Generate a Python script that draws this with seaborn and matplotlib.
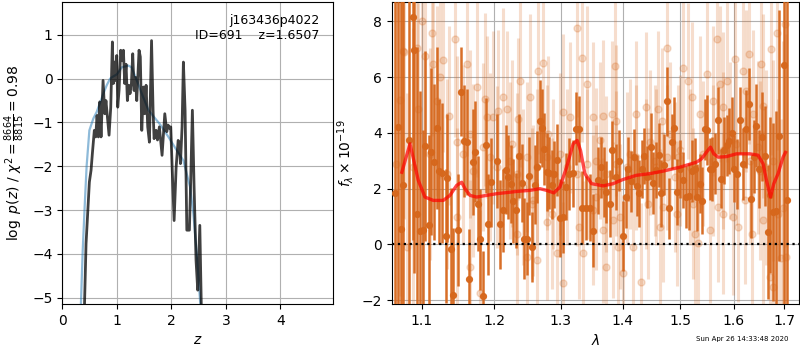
import matplotlib
matplotlib.use("Agg")
import matplotlib.pyplot as plt
import seaborn as sns
import numpy as np
from matplotlib.ticker import FixedLocator, FixedFormatter, NullLocator

# ---------------- left panel: log p(z) ----------------
pz_z = [0.404, 0.435, 0.496, 0.527, 0.551, 0.587, 0.612, 0.637, 0.661, 0.686,
        0.710, 0.747, 0.778, 0.800, 0.857, 0.888, 0.918, 0.936, 0.955, 0.973,
        0.998, 1.016, 1.040, 1.071, 1.096, 1.120, 1.144, 1.169, 1.193, 1.218,
        1.242, 1.267, 1.291, 1.316, 1.340, 1.365, 1.407, 1.430, 1.457, 1.487,
        1.511, 1.536, 1.566, 1.597, 1.636, 1.664, 1.683, 1.720, 1.745, 1.780,
        1.829, 1.879, 1.915, 1.940, 1.964, 1.988, 2.018, 2.050, 2.087, 2.124,
        2.148, 2.166, 2.196, 2.220, 2.251, 2.283, 2.330, 2.355, 2.385, 2.416,
        2.452, 2.483, 2.521, 2.550]
pz_logp = [-5.3, -3.77, -2.36, -2.09, -1.71, -1.18, -1.33, -0.84, -1.33, -0.53,
           -1.33, -0.04, -0.80, -0.50, -1.29, -0.65, 0.84, -0.11, 0.38, -0.04,
           0.53, -0.65, -0.27, 0.65, 0.41, 0.65, -0.11, 0.33, -0.50, -0.15,
           -0.34, -0.11, 0.57, -0.27, 0.03, -0.50, 0.65, 0.50, -1.18, -0.19,
           -0.80, -0.15, -1.10, -1.45, 0.87, -0.72, -1.37, -1.18, -1.40, -1.10,
           -1.75, -0.80, -1.21, -1.06, -1.13, -1.10, -2.17, -3.24, -2.02, -1.41,
           -1.48, -1.94, -1.10, 0.38, -0.72, -3.46, -3.46, -2.30, -0.72, -2.47,
           -4.15, -4.83, -3.35, -5.3]

prior_z = [0.337, 0.374, 0.415, 0.446, 0.496, 0.569, 0.630, 0.753, 0.814, 0.875,
           0.906, 1.000, 1.090, 1.210, 1.270, 1.365, 1.457, 1.580, 1.730, 1.790,
           1.946, 2.100, 2.220, 2.342, 2.403, 2.465, 2.526, 2.545]
prior_logp = [-5.3, -3.92, -2.78, -1.99, -1.18, -0.91, -0.76, -0.34, -0.15, 0.0,
              0.03, 0.10, 0.26, 0.30, 0.26, -0.04, -0.34, -0.72, -0.95, -1.04,
              -1.33, -1.64, -1.87, -2.47, -3.08, -4.00, -5.07, -5.3]

# ---------------- right panel: spectrum ----------------
dark_wave = [1.0652, 1.0695, 1.0729, 1.0759, 1.0837, 1.0882, 1.0902, 1.0941, 1.0977, 1.1020,
             1.1047, 1.1092, 1.1127, 1.1159, 1.1199, 1.1230, 1.1274, 1.1320, 1.1342, 1.1387,
             1.1423, 1.1487, 1.1529, 1.1570, 1.1608, 1.1644, 1.1692, 1.1728, 1.1762, 1.1794,
             1.1841, 1.1880, 1.1913, 1.1951,
             1.2043, 1.2082, 1.2121, 1.2165, 1.2203, 1.2238, 1.2276, 1.2316, 1.2365, 1.2405,
             1.2439, 1.2474, 1.2514, 1.2558, 1.2603, 1.2639, 1.2676, 1.2711, 1.2741, 1.2778,
             1.2817, 1.2859, 1.2895, 1.2932, 1.2983, 1.3025, 1.3077, 1.3119, 1.3192, 1.3235,
             1.3287, 1.3341, 1.3390, 1.3470, 1.3512,
             1.3594, 1.3649, 1.3692, 1.3731, 1.3786, 1.3830, 1.3886, 1.3941, 1.4008, 1.4054,
             1.4093, 1.4133, 1.4189, 1.4235, 1.4280, 1.4326, 1.4366, 1.4417, 1.4476, 1.4521,
             1.4568, 1.4616, 1.4668, 1.4709, 1.4757, 1.4803, 1.4851, 1.4899, 1.4946, 1.4995,
             1.5043, 1.5102, 1.5152, 1.5207,
             1.5267, 1.5309, 1.5359, 1.5408, 1.5457, 1.5494, 1.5544, 1.5594, 1.5643, 1.5699,
             1.5756, 1.5807, 1.5859, 1.5908, 1.5960, 1.6011, 1.6062, 1.6120, 1.6178, 1.6230,
             1.6289, 1.6334, 1.6387, 1.6440, 1.6491, 1.6545, 1.6604, 1.6670, 1.6718, 1.6778,
             1.6839, 1.6892, 1.6994, 1.7055]
dark_flux = [1.84, 4.22, 0.57, 2.15, 3.75, 8.15, 6.96, 1.08, 0.49, 0.51,
             3.54, 0.71, 3.33, 2.97, 4.17, 2.62, 2.56, 0.30, 2.39, -0.18,
             -1.81, 0.52, 5.48, 3.70, 3.68, -1.25, 2.97, 3.33, 1.46, 0.18,
             -1.85, 3.55, 0.72, 2.23,
             2.99, 0.72, 1.22, 2.68, 2.42, 2.18, 1.56, 1.22, 3.18, 2.20,
             0.21, 0.21, 2.44, -0.08, 2.15, 2.77, 4.41, 4.17, 3.43, 2.60,
             2.56, 2.15, 2.52, 3.02, 0.96, 0.98, 2.07, 2.52, 2.56, 4.15,
             4.14, 1.32, 1.32, 1.32, 0.50,
             2.30, 2.77, 2.23, 1.88, 1.46, 3.39, 2.42, 3.00, 0.30, 1.70,
             2.71, 2.26, 3.13, 2.11, 1.84, 2.71, 3.17, 2.42, 3.51, 2.20,
             2.67, 3.20, 1.84, 2.86, 5.13, 1.29, 3.69, 4.17, 1.88, 2.71,
             2.30, 1.70, 1.72, 2.63,
             2.71, 1.70, 2.18, 1.56, 4.13, 4.10, 2.71, 2.71, 2.90, 4.46,
             2.36, 3.37, 3.55, 3.71, 3.98, 2.71, 2.52, 4.46, 2.88, 4.13,
             5.03, 1.64, 3.15, 4.26, 2.71, 3.87, 3.17, 0.45, 1.76, 1.16,
             1.20, 3.89, 6.44, 1.60]
dark_err = [12, 12, 12, 12, 9, 8, 8, 6, 5, 3.6,
            3.4, 3.2, 3.0, 2.8, 2.9, 2.6, 2.5, 2.4, 2.3, 2.2,
            2.4, 2.0, 1.6, 2.0, 1.9, 1.8, 1.9, 1.8, 1.7, 1.8,
            1.6, 1.7, 1.8, 1.6,
            1.7, 1.6, 1.5, 1.6, 1.5, 1.4, 1.5, 1.35, 1.5, 1.4,
            1.45, 1.3, 1.4, 1.25, 1.4, 1.3, 1.5, 1.4, 1.3, 1.4,
            1.3, 1.25, 1.2, 1.3, 1.4, 1.3, 1.2, 1.3, 1.2, 1.3,
            1.2, 1.3, 1.15, 1.2, 1.3,
            1.2, 1.1, 1.25, 1.1, 1.2, 1.05, 1.2, 1.1, 1.25, 1.1,
            1.15, 1.1, 1.0, 1.1, 1.2, 1.05, 1.0, 1.1, 1.2, 1.1,
            1.0, 1.15, 1.2, 1.1, 1.25, 1.1, 1.0, 1.1, 1.2, 1.05,
            1.0, 1.1, 1.2, 1.1,
            1.1, 1.2, 1.05, 1.2, 1.1, 1.25, 1.1, 1.15, 1.1, 1.2,
            1.05, 1.2, 1.1, 1.2, 1.3, 1.2, 1.25, 1.2, 1.3, 1.4,
            1.3, 1.4, 1.3, 1.5, 1.4, 1.6, 1.8, 2.4, 2.8, 3.2,
            3.6, 4.5, 9, 10]

light_wave = [1.0759, 1.0802, 1.0941, 1.0954, 1.0999, 1.1042, 1.1132, 1.1153, 1.1199, 1.1244,
              1.1288, 1.1370, 1.1448, 1.1472, 1.1611, 1.1655, 1.1749, 1.1866, 1.1891, 1.1938,
              1.1985, 1.2057, 1.2130, 1.2180, 1.2253, 1.2350, 1.2375, 1.2424, 1.2524, 1.2550,
              1.2626, 1.2650, 1.2726, 1.2802, 1.2855, 1.2984, 1.3035, 1.3140, 1.3246, 1.3287,
              1.3335, 1.3406, 1.3512, 1.3567, 1.3620, 1.3675, 1.3731, 1.3814, 1.3869, 1.3897,
              1.3953, 1.4007, 1.4121, 1.4234, 1.4320, 1.4406, 1.4464, 1.4551, 1.4609, 1.4669,
              1.4697, 1.4757, 1.4816, 1.4905, 1.4964, 1.5054, 1.5145, 1.5207, 1.5267, 1.5359,
              1.5483, 1.5606, 1.5670, 1.5732, 1.5794, 1.5859, 1.5922, 1.6017, 1.6081, 1.6178,
              1.6244, 1.6295, 1.6373, 1.6471, 1.6538, 1.6570, 1.6638, 1.6739, 1.6771, 1.6840,
              1.6941,
              1.1472, 1.1655, 1.1796, 1.2326, 1.2474, 1.2573, 1.2778, 1.2932, 1.3035, 1.3351,
              1.3512, 1.3675, 1.3840, 1.3924, 1.4176, 1.4434, 1.4639, 1.4935, 1.5237, 1.5328,
              1.5544, 1.5700, 1.5794, 1.5985, 1.6211, 1.6342, 1.6570, 1.6705, 1.6872,
              1.0889, 1.1109, 1.1334, 1.1560, 1.1700, 1.1841, 1.2033, 1.2227, 1.2326, 1.2474,
              1.2626, 1.2778, 1.2880, 1.3088, 1.3246, 1.3406, 1.3567, 1.3731, 1.3897, 1.4065,
              1.4234, 1.4406, 1.4580, 1.4757, 1.4995, 1.5176, 1.5419, 1.5606, 1.5794, 1.6050,
              1.6308, 1.6504, 1.6771,
              1.0716, 1.0773, 1.0665, 1.7010, 1.7040, 1.6975]
light_flux = [6.94, -0.08, 7.06, 4.86, 8.01, 6.76, 7.59, 6.46, 5.15, 5.99,
              6.60, 4.62, 7.36, 3.67, 6.46, 3.96, 5.63, 5.21, 4.56, 3.13,
              4.56, 4.80, 5.27, 4.86, 3.61, 4.50, 5.87, 2.06, 5.27, 1.46,
              -0.56, 6.23, 6.52, 3.96, 1.11, 3.25, 4.74, 4.56, 7.77, 0.63,
              6.68, 5.75, 4.56, 1.70, 3.73, 4.62, -0.80, 4.68, 6.40, 4.44,
              0.99, -1.04, 3.25, 4.68, -1.33, 4.92, 3.67, 3.01, 4.86, 4.44,
              1.34, 7.06, 3.96, 2.42, 3.13, 6.34, 5.87, 5.27, 0.39, 4.68,
              6.11, 5.15, 7.36, 5.75, 4.92, 5.87, 3.73, 6.64, 0.63, 6.23,
              5.51, 6.82, 4.68, 3.49, 6.46, 4.98, 2.77, 7.00, -1.51, 7.59,
              -0.50,
              0.99, -0.80, -1.75, 0.39, -0.44, 1.58, 0.81, -0.32, -1.39, -0.32,
              1.23, 0.51, 0.87, -0.08, -0.08, 1.46, 0.63, 1.11, 1.46, 0.04,
              0.51, 1.34, 1.11, 0.99, 1.58, 0.39, 0.87, -1.16, 1.11,
              2.77, 3.25, 2.53, 3.25, 2.65, 3.49, 2.77, 3.01, 2.53, 3.13,
              2.77, 3.13, 2.53, 2.77, 2.53, 2.89, 3.01, 2.53, 2.89, 2.77,
              3.13, 2.53, 2.77, 3.13, 3.37, 2.77, 3.25, 3.01, 3.37, 3.61,
              3.01, 2.65, 3.01,
              5.17, 6.90, 2.90, 7.90, -0.45, 1.30]
light_err = [6.0, 5.5, 4.1, 3.8, 4.0, 3.6, 3.7, 3.5, 3.4, 3.6,
             3.3, 3.2, 3.5, 3.1, 3.3, 3.0, 3.2, 3.1, 2.9, 3.0,
             3.1, 2.9, 3.2, 2.8, 3.0, 2.9, 3.1, 2.8, 3.0, 2.7,
             2.9, 3.0, 3.1, 2.8, 2.7, 2.9, 2.8, 2.7, 3.2, 2.6,
             3.0, 2.8, 2.7, 2.6, 2.8, 2.7, 2.9, 2.6, 2.8, 2.7,
             2.6, 2.8, 2.7, 2.6, 2.8, 2.7, 2.6, 2.7, 2.8, 2.6,
             2.7, 3.1, 2.6, 2.7, 2.6, 2.9, 2.8, 2.7, 2.6, 2.8,
             2.9, 2.7, 3.0, 2.8, 2.7, 2.9, 2.8, 3.0, 2.7, 3.1,
             2.9, 3.2, 3.0, 3.1, 3.4, 3.3, 3.5, 3.8, 3.6, 4.2,
             5.0,
             3.2, 3.1, 3.0, 2.9, 2.8, 2.7, 2.8, 2.7, 2.9, 2.6,
             2.7, 2.6, 2.8, 2.7, 2.6, 2.7, 2.8, 2.6, 2.7, 2.8,
             2.6, 2.7, 2.9, 2.8, 3.0, 2.9, 3.2, 3.6, 4.1,
             5.0, 3.8, 3.4, 3.2, 3.1, 3.0, 2.9, 2.8, 2.9, 2.7,
             2.8, 2.6, 2.7, 2.8, 2.6, 2.7, 2.6, 2.8, 2.6, 2.7,
             2.6, 2.7, 2.8, 2.6, 2.7, 2.8, 2.6, 2.7, 2.8, 2.9,
             3.0, 3.2, 3.6,
             7.0, 6.0, 9.0, 8.0, 8.0, 6.0]

model_wave = [1.0740, 1.0846, 1.0954, 1.1042, 1.1153, 1.1288, 1.1379, 1.1471, 1.1540, 1.1586,
              1.1655, 1.1749, 1.2034, 1.2326, 1.2525, 1.2676, 1.2778, 1.2891, 1.2984, 1.3089,
              1.3193, 1.3256, 1.3310, 1.3379, 1.3487, 1.3676, 1.3840, 1.4007, 1.4234, 1.4465,
              1.4697, 1.4995, 1.5298, 1.5390, 1.5483, 1.5557, 1.5619, 1.5700, 1.5858, 1.6050,
              1.6308, 1.6471, 1.6571, 1.6638, 1.6719, 1.6785, 1.6872, 1.6973, 1.7022]
model_flux = [2.59, 3.61, 2.30, 1.70, 1.58, 1.58, 1.76, 2.12, 2.23, 2.00,
              1.76, 1.70, 1.82, 1.90, 1.94, 2.00, 1.94, 1.85, 2.06, 2.77,
              3.61, 3.73, 3.37, 2.54, 2.18, 2.10, 2.18, 2.33, 2.48, 2.54,
              2.63, 2.77, 2.95, 3.07, 3.31, 3.49, 3.25, 3.13, 3.15, 3.25,
              3.25, 3.20, 2.89, 2.30, 1.70, 2.18, 2.54, 3.13, 3.30]

xtick_vals = [1.1, 1.2, 1.3, 1.4, 1.5, 1.6, 1.7]
xtick_labels = ['1.1', '1.2', '1.3', '1.4', '1.5', '1.6', '1.7']

# ---------------- figure ----------------
fig = plt.figure(figsize=(8, 3.5), dpi=100)
ax1 = fig.add_axes([0.0779, 0.131, 0.3388, 0.863])
ax2 = fig.add_axes([0.4896, 0.131, 0.5091, 0.863])

sns.lineplot(x=prior_z, y=prior_logp, ax=ax1, sort=False, estimator=None,
             color='#1f77b4', alpha=0.5, lw=1.6, legend=False)
sns.lineplot(x=pz_z, y=pz_logp, ax=ax1, sort=False, estimator=None,
             color='k', alpha=0.75, lw=2.0, legend=False)
ax1.set_xlim(0, 4.97)
ax1.set_ylim(-5.15, 1.75)
ax1.set_xticks([0, 1, 2, 3, 4])
ax1.set_yticks([-5, -4, -3, -2, -1, 0, 1])
ax1.grid(True)
ax1.set_xlabel('$z$')
ax1.set_ylabel(r'$\log\ p(z)$ / $\chi^2=\frac{8664}{8815}=0.98$')
ax1.text(0.95, 0.962, 'j163436p4022\nID=691    z=1.6507', transform=ax1.transAxes,
         ha='right', va='top', fontsize=9)

dark_color = '#d6671c'
ax2.errorbar(light_wave, light_flux, yerr=light_err, fmt='o', color=dark_color,
             alpha=0.22, ms=5, lw=2.2, zorder=2)
ax2.errorbar(dark_wave, dark_flux, yerr=dark_err, fmt='o', color=dark_color,
             alpha=0.95, ms=4.2, lw=1.8, zorder=3)
sns.lineplot(x=model_wave, y=model_flux, ax=ax2, sort=False, estimator=None,
             color='r', alpha=0.7, lw=2.4, legend=False, zorder=4)
ax2.axhline(0, color='k', ls=':', lw=1.6, zorder=5)

ax2.set_xscale('log')
ax2.xaxis.set_major_locator(FixedLocator(xtick_vals))
ax2.xaxis.set_major_formatter(FixedFormatter(xtick_labels))
ax2.xaxis.set_minor_locator(NullLocator())
ax2.set_xlim(1.061, 1.730)
ax2.set_ylim(-2.14, 8.69)
ax2.set_yticks([-2, 0, 2, 4, 6, 8])
ax2.grid(True)
ax2.set_xlabel(r'$\lambda$')
ax2.set_ylabel(r'$f_\lambda\times10^{-19}$')

fig.text(0.9275, 0.031, 'Sun Apr 26 14:33:48 2020', fontsize=5, ha='center', va='center')

fig.savefig('out.png', dpi=100)
